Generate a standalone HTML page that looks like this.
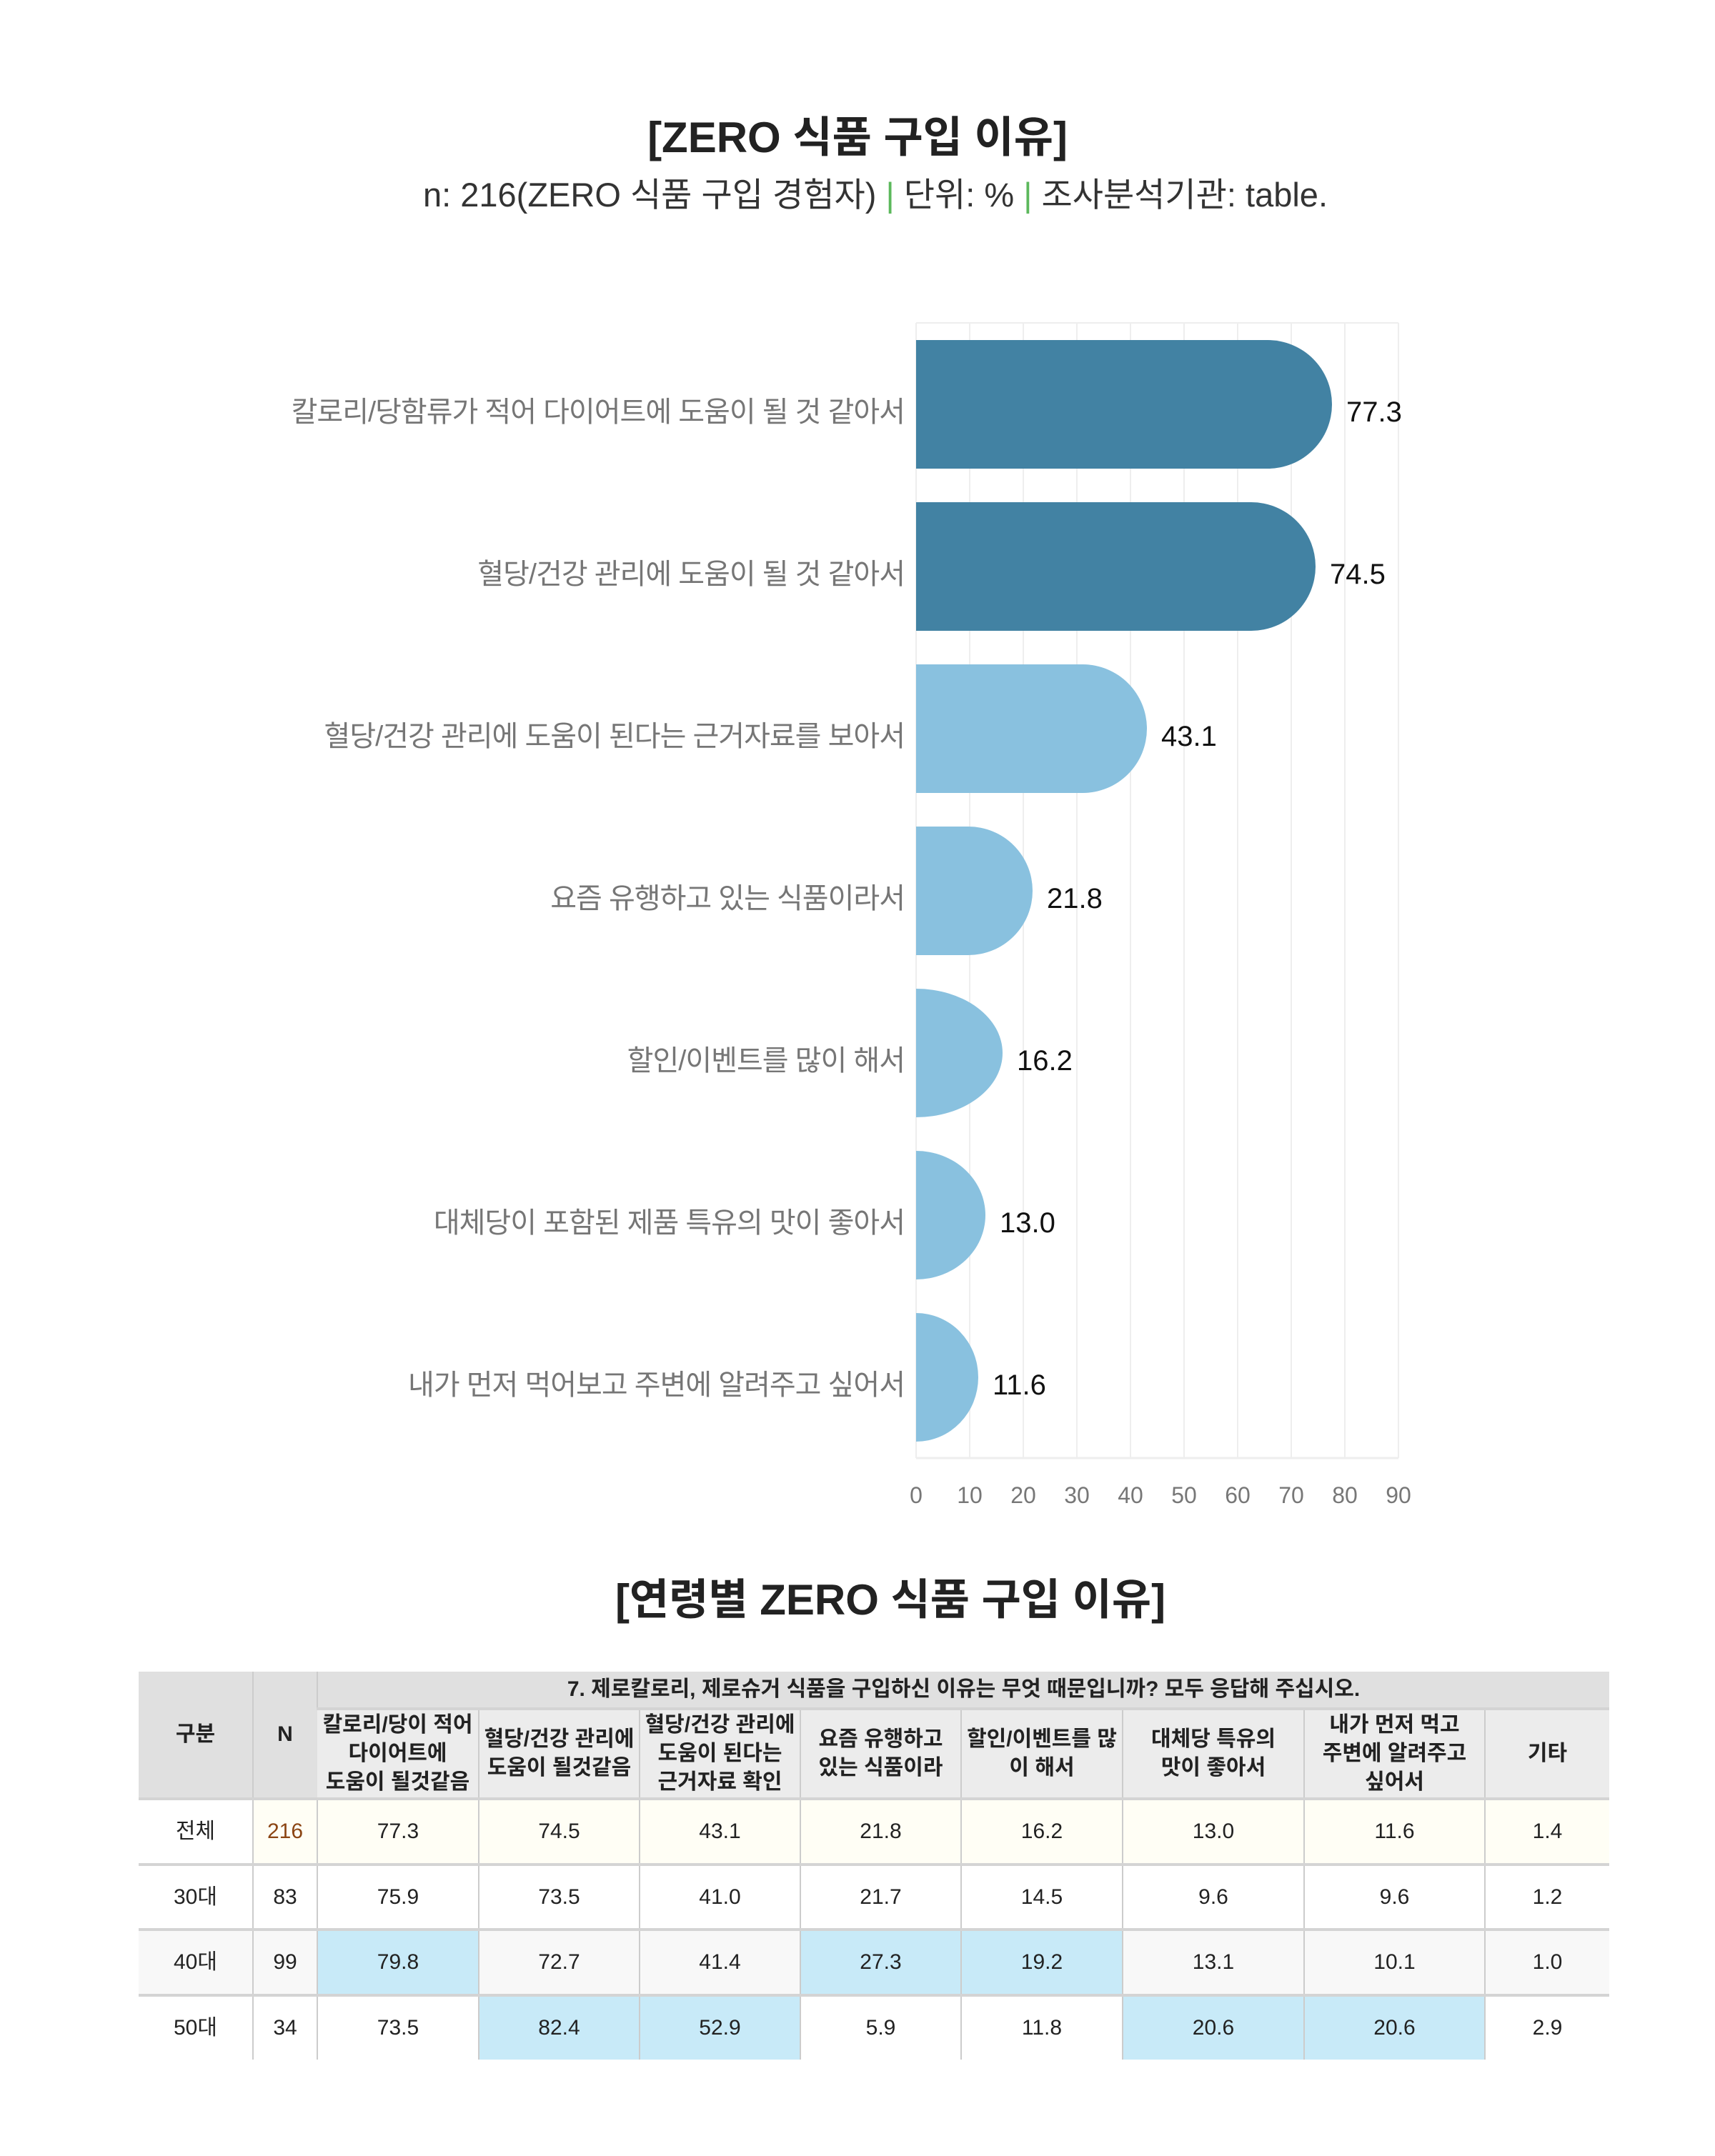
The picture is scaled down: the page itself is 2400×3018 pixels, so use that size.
<!DOCTYPE html>
<html><head><meta charset="utf-8"><style>
body{margin:0;width:2400px;height:3018px;background:#fff;position:relative;font-family:"Liberation Sans","Noto Sans CJK KR",sans-serif;overflow:hidden}
.t{position:absolute;left:0;width:2400px;text-align:center;white-space:nowrap}
table{position:absolute;left:194px;top:2340px;border-collapse:collapse;table-layout:fixed;font-size:30px;color:#222}
td{text-align:center;vertical-align:middle;border-left:2px solid #ccc;border-bottom:4px solid #d4d4d4;padding:0;line-height:40px}
td:first-child{border-left:none}
.h1{background:#e0e0e0;font-weight:bold}
.h2{background:#ececec;font-weight:bold}
.c{background:#fffef5}.g{background:#f8f8f8}.b{background:#c8eaf8}
tr.last td{border-bottom:none}
</style></head><body>
<div class="t" style="top:144px;font-size:60px;font-weight:bold;color:#222">[ZERO 식품 구입 이유]</div>
<div class="t" style="top:234px;left:25px;font-size:47px;color:#333">n: 216(ZERO 식품 구입 경험자) <span style="color:#5cb85c">|</span> 단위: % <span style="color:#5cb85c">|</span> 조사분석기관: table.</div>
<svg style="position:absolute;left:0;top:0" width="2400" height="2150" font-family="Liberation Sans, Noto Sans CJK KR, sans-serif">
<g stroke="#eeeeee" stroke-width="2">
<line x1="1282" y1="452" x2="1957" y2="452"/><line x1="1282" y1="2041" x2="1957" y2="2041" stroke-width="3"/>
<line x1="1282" y1="452" x2="1282" y2="2041"/><line x1="1357" y1="452" x2="1357" y2="2041"/><line x1="1432" y1="452" x2="1432" y2="2041"/><line x1="1507" y1="452" x2="1507" y2="2041"/><line x1="1582" y1="452" x2="1582" y2="2041"/><line x1="1657" y1="452" x2="1657" y2="2041"/><line x1="1732" y1="452" x2="1732" y2="2041"/><line x1="1807" y1="452" x2="1807" y2="2041"/><line x1="1882" y1="452" x2="1882" y2="2041"/><line x1="1957" y1="452" x2="1957" y2="2041"/>
</g>
<g fill="#777" font-size="32" text-anchor="middle">
<text x="1282" y="2104">0</text><text x="1357" y="2104">10</text><text x="1432" y="2104">20</text><text x="1507" y="2104">30</text><text x="1582" y="2104">40</text><text x="1657" y="2104">50</text><text x="1732" y="2104">60</text><text x="1807" y="2104">70</text><text x="1882" y="2104">80</text><text x="1957" y="2104">90</text>
</g>
<path fill="#4282a3" d="M1282 476 L1774 476 A90 90 0 0 1 1864 566 A90 90 0 0 1 1774 656 L1282 656Z"/>
<path fill="#4282a3" d="M1282 703 L1751 703 A90 90 0 0 1 1841 793 A90 90 0 0 1 1751 883 L1282 883Z"/>
<path fill="#89c1df" d="M1282 930 L1515 930 A90 90 0 0 1 1605 1020 A90 90 0 0 1 1515 1110 L1282 1110Z"/>
<path fill="#89c1df" d="M1282 1157 L1355 1157 A90 90 0 0 1 1445 1247 A90 90 0 0 1 1355 1337 L1282 1337Z"/>
<path fill="#89c1df" d="M1282 1384 A121 90 0 0 1 1403 1474 A121 90 0 0 1 1282 1564Z"/>
<path fill="#89c1df" d="M1282 1611 A97 90 0 0 1 1379 1701 A97 90 0 0 1 1282 1791Z"/>
<path fill="#89c1df" d="M1282 1838 A87 90 0 0 1 1369 1928 A87 90 0 0 1 1282 2018Z"/>
<g fill="#767676" font-size="40" text-anchor="end" letter-spacing="-1">
<text x="1266" y="590">칼로리/당함류가 적어 다이어트에 도움이 될 것 같아서</text>
<text x="1266" y="817">혈당/건강 관리에 도움이 될 것 같아서</text>
<text x="1266" y="1044">혈당/건강 관리에 도움이 된다는 근거자료를 보아서</text>
<text x="1266" y="1271">요즘 유행하고 있는 식품이라서</text>
<text x="1266" y="1498">할인/이벤트를 많이 해서</text>
<text x="1266" y="1725">대체당이 포함된 제품 특유의 맛이 좋아서</text>
<text x="1266" y="1952">내가 먼저 먹어보고 주변에 알려주고 싶어서</text>
</g>
<g fill="#111" font-size="40">
<text x="1884" y="590">77.3</text><text x="1861" y="817">74.5</text><text x="1625" y="1044">43.1</text><text x="1465" y="1271">21.8</text><text x="1423" y="1498">16.2</text><text x="1399" y="1725">13.0</text><text x="1389" y="1952">11.6</text>
</g>
</svg>
<div class="t" style="top:2191px;left:46px;font-size:60px;font-weight:bold;color:#222">[연령별 ZERO 식품 구입 이유]</div>
<table>
<colgroup><col style="width:160px"><col style="width:90px"><col style="width:226px"><col style="width:225px"><col style="width:225px"><col style="width:225px"><col style="width:226px"><col style="width:254px"><col style="width:253px"><col style="width:174px"></colgroup>
<tr style="height:52px"><td class="h1" rowspan="2">구분</td><td class="h1" rowspan="2">N</td><td class="h1" colspan="8">7. 제로칼로리, 제로슈거 식품을 구입하신 이유는 무엇 때문입니까? 모두 응답해 주십시오.</td></tr>
<tr style="height:126px"><td class="h2">칼로리/당이 적어<br>다이어트에<br>도움이 될것같음</td><td class="h2">혈당/건강 관리에<br>도움이 될것같음</td><td class="h2">혈당/건강 관리에<br>도움이 된다는<br>근거자료 확인</td><td class="h2">요즘 유행하고<br>있는 식품이라</td><td class="h2">할인/이벤트를 많<br>이 해서</td><td class="h2">대체당 특유의<br>맛이 좋아서</td><td class="h2">내가 먼저 먹고<br>주변에 알려주고<br>싶어서</td><td class="h2">기타</td></tr>
<tr style="height:92px"><td>전체</td><td class="c" style="color:#8b4513">216</td><td class="c">77.3</td><td class="c">74.5</td><td class="c">43.1</td><td class="c">21.8</td><td class="c">16.2</td><td class="c">13.0</td><td class="c">11.6</td><td class="c">1.4</td></tr>
<tr style="height:91px"><td>30대</td><td>83</td><td>75.9</td><td>73.5</td><td>41.0</td><td>21.7</td><td>14.5</td><td>9.6</td><td>9.6</td><td>1.2</td></tr>
<tr style="height:92px"><td class="g">40대</td><td class="g">99</td><td class="b">79.8</td><td class="g">72.7</td><td class="g">41.4</td><td class="b">27.3</td><td class="b">19.2</td><td class="g">13.1</td><td class="g">10.1</td><td class="g">1.0</td></tr>
<tr class="last" style="height:90px"><td>50대</td><td>34</td><td>73.5</td><td class="b">82.4</td><td class="b">52.9</td><td>5.9</td><td>11.8</td><td class="b">20.6</td><td class="b">20.6</td><td>2.9</td></tr>
</table>
</body></html>
